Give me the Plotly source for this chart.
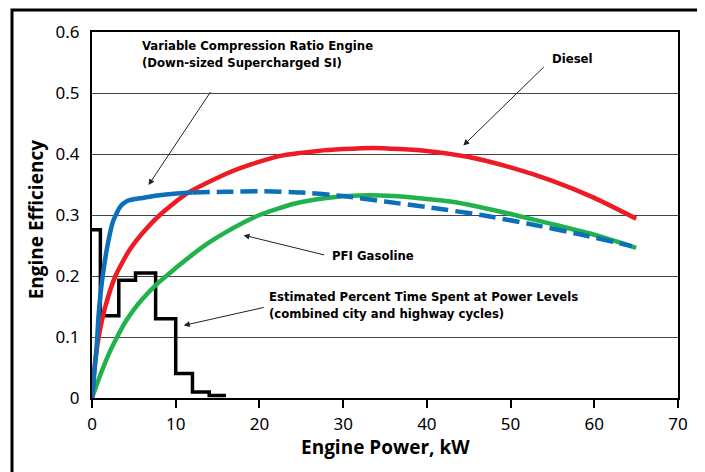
import plotly.graph_objects as go

# ---- data ----
hist_edges = [0, 1, 3.2, 5.2, 7.6, 10, 12, 14, 16]
hist_vals = [0.276, 0.135, 0.193, 0.205, 0.13, 0.04, 0.01, 0.004, 0.004]

vcr_solid_x = [0, 0.55, 0.8, 1.2, 1.8, 2.5, 3.4, 4.2, 6, 9.1, 12]
vcr_solid_y = [0, 0.083, 0.138, 0.192, 0.246, 0.289, 0.314, 0.323, 0.328, 0.334, 0.337]
vcr_dash_x = [12, 16, 20, 25, 30, 35, 40, 46.5, 52, 58.4, 64.5]
vcr_dash_y = [0.337, 0.338, 0.339, 0.337, 0.331, 0.322, 0.313, 0.30, 0.286, 0.268, 0.249]

diesel_x = [0, 0.3, 0.8, 1.6, 2.8, 4.5, 6.2, 8.1, 11.3, 16.1, 19, 22.5, 27, 30, 33.6, 40, 45, 50, 55, 60, 65]
diesel_y = [0, 0.05, 0.1, 0.15, 0.2, 0.243, 0.273, 0.3, 0.335, 0.368, 0.383, 0.397, 0.405, 0.408, 0.41, 0.405, 0.395, 0.378, 0.356, 0.328, 0.294]

pfi_x = [0, 1, 2, 3, 4, 5, 6, 8, 10, 12, 14, 16, 18, 20, 24, 28, 32, 36, 42.8, 46, 50.5, 55, 60.7, 65]
pfi_y = [0, 0.038, 0.072, 0.10, 0.125, 0.145, 0.162, 0.19, 0.213, 0.235, 0.255, 0.272, 0.287, 0.30, 0.318, 0.328, 0.332, 0.331, 0.322, 0.314, 0.30, 0.285, 0.265, 0.246]

x_ticks = [0, 10, 20, 30, 40, 50, 60, 70]
y_ticks = [0, 0.1, 0.2, 0.3, 0.4, 0.5, 0.6]

BLUE = "#0b6fba"
RED = "#ed1c24"
GREEN = "#22b24c"
LABEL_FONT = dict(family="DejaVu Sans Condensed, Liberation Sans Narrow, Arial Narrow, sans-serif", size=13, color="black")
TITLE_FONT = dict(family="Open Sans", size=19, color="black")

fig = go.Figure()
fig.add_trace(go.Scatter(x=hist_edges, y=hist_vals, mode="lines", line=dict(color="black", width=3.5, shape="hv")))
fig.add_trace(go.Scatter(x=pfi_x, y=pfi_y, mode="lines", line=dict(color=GREEN, width=4.5, shape="spline", smoothing=0.6)))
fig.add_trace(go.Scatter(x=diesel_x, y=diesel_y, mode="lines", line=dict(color=RED, width=4.5, shape="spline", smoothing=0.6)))
fig.add_trace(go.Scatter(x=vcr_dash_x, y=vcr_dash_y, mode="lines", line=dict(color=BLUE, width=4.5, shape="spline", smoothing=0.6, dash="17px,7px")))
fig.add_trace(go.Scatter(x=vcr_solid_x, y=vcr_solid_y, mode="lines", line=dict(color=BLUE, width=4.5, shape="spline", smoothing=0.6)))

annotations = []
# arrows (head at x,y ; tail at ax,ay)
for (hx, hy, tx, ty) in [(6.75, 0.349, 14.27, 0.504), (44.36, 0.414, 54.15, 0.545),
                         (18.1, 0.267, 27.9, 0.234), (10.96, 0.119, 20.7, 0.149)]:
    annotations.append(dict(x=hx, y=hy, ax=tx, ay=ty, xref="x", yref="y", axref="x", ayref="y",
                            text="", showarrow=True, arrowhead=2, arrowsize=1.2, arrowwidth=1,
                            arrowcolor="#222222", standoff=0, startstandoff=0))
# labels
annotations += [
    dict(x=5.79, y=0.593, xref="x", yref="y", xanchor="left", yanchor="top", showarrow=False,
         align="left", text="<b>Variable Compression Ratio Engine<br>(Down-sized Supercharged SI)</b>", font=LABEL_FONT),
    dict(x=54.75, y=0.557, xref="x", yref="y", xanchor="left", yanchor="middle", showarrow=False,
         text="<b>Diesel</b>", font=LABEL_FONT),
    dict(x=28.4, y=0.233, xref="x", yref="y", xanchor="left", yanchor="middle", showarrow=False,
         text="<b>PFI Gasoline</b>", font=LABEL_FONT),
    dict(x=20.96, y=0.182, xref="x", yref="y", xanchor="left", yanchor="top", showarrow=False,
         align="left", text="<b>Estimated Percent Time Spent at Power Levels<br>(combined city and highway cycles)</b>", font=LABEL_FONT),
    dict(x=0.5, y=-0.134, xref="paper", yref="paper", xanchor="center", yanchor="middle", showarrow=False,
         text="<b>Engine Power, kW</b>", font=TITLE_FONT),
    dict(x=-0.095, y=0.489, xref="paper", yref="paper", xanchor="center", yanchor="middle", showarrow=False,
         textangle=-90, text="<b>Engine Efficiency</b>", font=TITLE_FONT),
]

fig.update_layout(
    width=705, height=472,
    margin=dict(l=84, r=35, t=24, b=82),
    paper_bgcolor="white", plot_bgcolor="white",
    showlegend=False,
    annotations=annotations,
    shapes=[dict(type="rect", xref="paper", yref="paper", x0=-0.1365, x1=1.0392, y0=-0.25, y1=1.060,
                 line=dict(color="black", width=3), fillcolor="rgba(0,0,0,0)", layer="below")],
    font=dict(family="Noto Sans", size=17, color="black"),
)
fig.update_xaxes(range=[0, 70], tickvals=x_ticks, ticks="outside", ticklen=8, tickwidth=2, tickcolor="black",
                 showline=True, linecolor="black", linewidth=2, mirror=True, showgrid=False, zeroline=False,
                 tickfont=dict(family="Noto Sans", size=17), ticklabelstandoff=2)
fig.update_yaxes(range=[0, 0.6], tickvals=y_ticks, ticks="", showline=True, linecolor="black", linewidth=2,
                 mirror=True, showgrid=True, gridcolor="#444444", gridwidth=1, zeroline=False,
                 tickfont=dict(family="Noto Sans", size=17), ticklabelstandoff=7)

fig.write_html("out.html")
